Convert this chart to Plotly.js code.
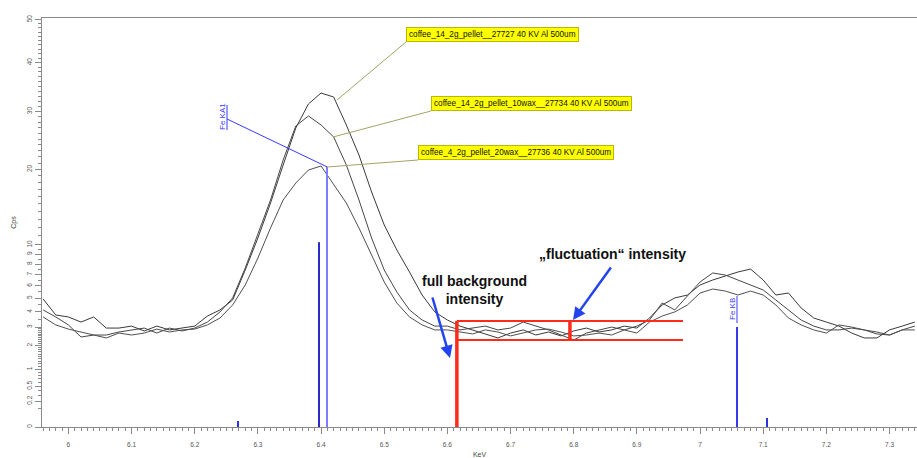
<!DOCTYPE html>
<html><head><meta charset="utf-8">
<script src="https://cdn.plot.ly/plotly-3.0.1.min.js"></script>
<style>html,body{margin:0;padding:0;background:#fff;}#chart{width:917px;height:458px;}</style>
</head><body><div id="chart"></div>
<script>
// ---- data (KeV vs counts per second) ----
const energyKeV = [5.96,5.98,6.00,6.02,6.04,6.06,6.08,6.10,6.12,6.14,6.16,6.18,6.20,6.22,6.24,6.26,6.28,6.30,6.32,6.34,
  6.36,6.38,6.40,6.42,6.44,6.46,6.48,6.50,6.52,6.54,6.56,6.58,6.60,6.62,6.64,6.66,6.68,6.70,6.72,6.74,
  6.76,6.78,6.80,6.82,6.84,6.86,6.88,6.90,6.92,6.94,6.96,6.98,7.00,7.02,7.04,7.06,7.08,7.10,7.12,7.14,
  7.16,7.18,7.20,7.22,7.24,7.26,7.28,7.30,7.32,7.34];
const cpsPellet = [4.94,3.78,3.65,3.32,3.65,2.95,2.95,3.07,2.78,3.07,2.84,2.95,3.07,3.71,4.13,4.86,7.43,10.77,15.12,20.69,
  26.95,31.45,33.62,32.82,27.49,22.30,16.65,12.30,9.44,7.24,5.25,3.99,3.45,3.07,2.84,2.61,2.39,2.66,2.84,2.55,
  2.72,2.50,2.78,2.95,2.72,2.84,3.07,2.95,3.58,4.49,5.02,5.25,6.08,6.51,6.87,7.24,7.52,6.51,5.25,5.41,
  4.27,3.58,3.32,3.07,2.66,2.39,2.39,2.84,3.07,3.32];
const cpsPellet10wax = [4.13,3.65,3.14,2.44,2.55,2.55,2.72,2.84,2.95,2.66,2.95,2.78,2.95,3.32,3.99,5.02,7.62,11.23,15.53,21.49,
  27.31,29.15,27.49,25.35,20.69,15.53,10.77,7.43,5.49,4.13,3.45,3.07,3.07,2.84,2.95,3.07,2.84,2.95,3.32,3.07,
  2.84,2.55,2.28,2.66,2.84,3.01,2.84,3.07,3.45,4.63,4.13,5.17,6.34,7.15,6.96,6.51,6.08,5.66,4.86,4.13,
  3.45,3.07,2.84,2.84,2.95,2.84,2.61,2.55,2.84,3.07];
const cpsPellet20wax = [3.65,3.14,2.89,2.72,2.55,2.39,2.66,2.55,2.66,2.89,2.72,2.84,2.89,3.14,3.58,4.49,6.08,8.61,11.94,15.53,
  17.94,19.91,20.53,17.65,15.12,11.94,8.92,6.34,4.63,3.65,3.14,2.84,2.84,2.72,2.61,2.84,2.72,2.50,2.66,2.84,
  2.89,2.72,2.50,2.55,2.66,2.55,2.84,2.66,3.32,3.71,3.99,4.49,5.41,5.74,5.57,5.25,5.57,5.25,4.49,3.58,
  3.14,2.84,2.66,3.14,3.01,2.84,2.72,2.55,2.84,2.84];
const seriesLabels = ['coffee_14_2g_pellet__27727 40 KV Al 500um',
  'coffee_14_2g_pellet_10wax__27734 40 KV Al 500um',
  'coffee_4_2g_pellet_20wax__27736 40 KV Al 500um'];
// element marker lines
const lineEnergy = [6.2685, 6.3967, 6.4094, 7.0585, 7.1060];
const lineHeight = [0.011, 10.3, 20.4, 3.01, 0.024];
const lineNames = ['', 'Fe KA2', 'Fe KA1', 'Fe KB', ''];
// background box (cps levels and energy limits)
const bgLevels = [3.39, 2.28];          // full background top, fluctuation bottom
const bgEnergies = [6.615, 6.794, 6.973]; // start, fluctuation marker, end
// axis ticks
const yTickLabels = [0, 0.2, 0.5, 1, 2, 3, 4, 5, 6, 7, 8, 9, 10, 20, 30, 40, 50];

// ---- helpers: reference pixel -> axis coordinates (for text placement only) ----
const px2x = p => 6 + (p - 68.4) / 631.65;
const py2y = p => (427 - p) / 57.6;   // square-root axis space
const sq = v => Math.sqrt(v);

const specColors = ['#3a3a3a', '#474747', '#505050'];
const traces = [];
[cpsPellet, cpsPellet10wax, cpsPellet20wax].forEach((s, i) => {
  traces.push({x: energyKeV, y: s.map(sq), type: 'scatter', mode: 'lines',
    line: {color: specColors[i], width: 1}, hoverinfo: 'skip', showlegend: false});
});
const lineColors = ['#2a35d8', '#2a2ac8', '#7c7cff', '#3838ee', '#2a35d8'];
lineEnergy.forEach((e, i) => {
  traces.push({x: [e, e], y: [0, sq(lineHeight[i])], type: 'scatter', mode: 'lines',
    line: {color: lineColors[i], width: 2}, hoverinfo: 'skip', showlegend: false});
});
const red = '#ff2a1a';
traces.push({x: [bgEnergies[0], bgEnergies[2]], y: [sq(bgLevels[0]), sq(bgLevels[0])], mode: 'lines', line: {color: red, width: 2}, showlegend: false, hoverinfo: 'skip'});
traces.push({x: [bgEnergies[0], bgEnergies[2]], y: [sq(bgLevels[1]), sq(bgLevels[1])], mode: 'lines', line: {color: red, width: 2}, showlegend: false, hoverinfo: 'skip'});
traces.push({x: [bgEnergies[0], bgEnergies[0]], y: [0, sq(bgLevels[0])], mode: 'lines', line: {color: red, width: 3.5}, showlegend: false, hoverinfo: 'skip'});
traces.push({x: [bgEnergies[1], bgEnergies[1]], y: [sq(bgLevels[1]), sq(bgLevels[0])], mode: 'lines', line: {color: red, width: 3.5}, showlegend: false, hoverinfo: 'skip'});

// minor y ticks
const yMinor = [];
for (let v = 0.1; v < 2.95; v += 0.1) yMinor.push(sq(+v.toFixed(1)));
for (let v = 3.5; v < 10; v += 1) yMinor.push(sq(v));
for (let v = 11; v < 50; v++) if (v % 10) yMinor.push(sq(v));

const boxCorners = [[406, 42], [431, 111], [418, 160]];
const boxTargets = [[337, 100], [333, 137], [327, 167]];
const annotations = [];
const shapes = [];
seriesLabels.forEach((t, i) => {
  annotations.push({text: t, xref: 'x', yref: 'y', x: px2x(boxCorners[i][0]), y: py2y(boxCorners[i][1]),
    xanchor: 'left', yanchor: 'bottom', showarrow: false, bgcolor: '#ffff00', bordercolor: '#b8b800',
    borderwidth: 1, borderpad: 2, font: {family: 'Liberation Sans, Arial', size: 8.2, color: '#111'}});
  shapes.push({type: 'line', xref: 'x', yref: 'y', x0: px2x(boxCorners[i][0]), y0: py2y(boxCorners[i][1]),
    x1: px2x(boxTargets[i][0]), y1: py2y(boxTargets[i][1]), line: {color: '#a4a468', width: 1}});
});
// Fe labels
const blue = '#3a3aff';
annotations.push({text: lineNames[2], xref: 'x', yref: 'y', x: px2x(222), y: py2y(117), textangle: -90,
  showarrow: false, font: {family: 'Liberation Sans, Arial', size: 8, color: blue}});
shapes.push({type: 'line', xref: 'x', yref: 'y', x0: px2x(227), y0: py2y(105), x1: px2x(227), y1: py2y(130), line: {color: blue, width: 1}});
shapes.push({type: 'line', xref: 'x', yref: 'y', x0: px2x(227), y0: py2y(119), x1: lineEnergy[2], y1: sq(lineHeight[2]), line: {color: blue, width: 1}});
annotations.push({text: lineNames[3], xref: 'x', yref: 'y', x: px2x(732), y: py2y(309), textangle: -90,
  showarrow: false, font: {family: 'Liberation Sans, Arial', size: 8, color: blue}});
shapes.push({type: 'line', xref: 'x', yref: 'y', x0: px2x(737), y0: py2y(296), x1: px2x(737), y1: py2y(323), line: {color: blue, width: 1}});
// bold text + blue arrows
annotations.push({text: '<b>full background<br>intensity</b>', xref: 'x', yref: 'y', x: px2x(474), y: py2y(290),
  showarrow: false, align: 'center', font: {family: 'Liberation Sans, Arial', size: 14, color: '#111'}});
annotations.push({text: '<b>„fluctuation“ intensity</b>', xref: 'x', yref: 'y', x: px2x(612), y: py2y(254),
  showarrow: false, font: {family: 'Liberation Sans, Arial', size: 14, color: '#111'}});
annotations.push({text: '', xref: 'x', yref: 'y', x: px2x(450), y: py2y(358), ax: -18, ay: -62,
  showarrow: true, arrowhead: 2, arrowsize: 1, arrowwidth: 2.5, arrowcolor: '#2244ee', standoff: 0});
annotations.push({text: '', xref: 'x', yref: 'y', x: px2x(573), y: py2y(320), ax: 39, ay: -54,
  showarrow: true, arrowhead: 2, arrowsize: 1, arrowwidth: 2.5, arrowcolor: '#2244ee', standoff: 0});

const axisGrey = '#8a8a8a';
const layout = {
  width: 917, height: 458,
  margin: {l: 42, r: 0, t: 18, b: 31},
  paper_bgcolor: '#fff', plot_bgcolor: '#fff',
  showlegend: false,
  xaxis: {range: [px2x(42), px2x(917)], showgrid: false, zeroline: false,
    showline: true, mirror: true, linecolor: axisGrey, linewidth: 1,
    tick0: 6, dtick: 0.1, ticks: 'outside', ticklen: 6, tickcolor: axisGrey,
    ticklabelstandoff: 5,
    tickfont: {family: 'Liberation Sans, Arial', size: 6.5, color: '#555'},
    minor: {dtick: 0.01, ticks: 'outside', ticklen: 3, tickcolor: axisGrey, showgrid: false},
    title: {text: 'KeV', font: {family: 'Liberation Sans, Arial', size: 7, color: '#444'}, standoff: 6}},
  yaxis: {range: [0, py2y(18)], showgrid: false, zeroline: false,
    showline: true, linecolor: axisGrey, linewidth: 1,
    tickmode: 'array', tickvals: yTickLabels.map(sq), ticktext: yTickLabels.map(String),
    ticks: 'outside', ticklen: 6, tickcolor: axisGrey, tickangle: -90,
    tickfont: {family: 'Liberation Sans, Arial', size: 6.5, color: '#555'},
    minor: {tickmode: 'array', tickvals: yMinor, ticks: 'outside', ticklen: 3, tickcolor: axisGrey, showgrid: false},
    title: {text: 'Cps', font: {family: 'Liberation Sans, Arial', size: 7, color: '#444'}, standoff: 8}},
  annotations: annotations,
  shapes: shapes
};
Plotly.newPlot('chart', traces, layout, {displayModeBar: false, staticPlot: true});
</script></body></html>
